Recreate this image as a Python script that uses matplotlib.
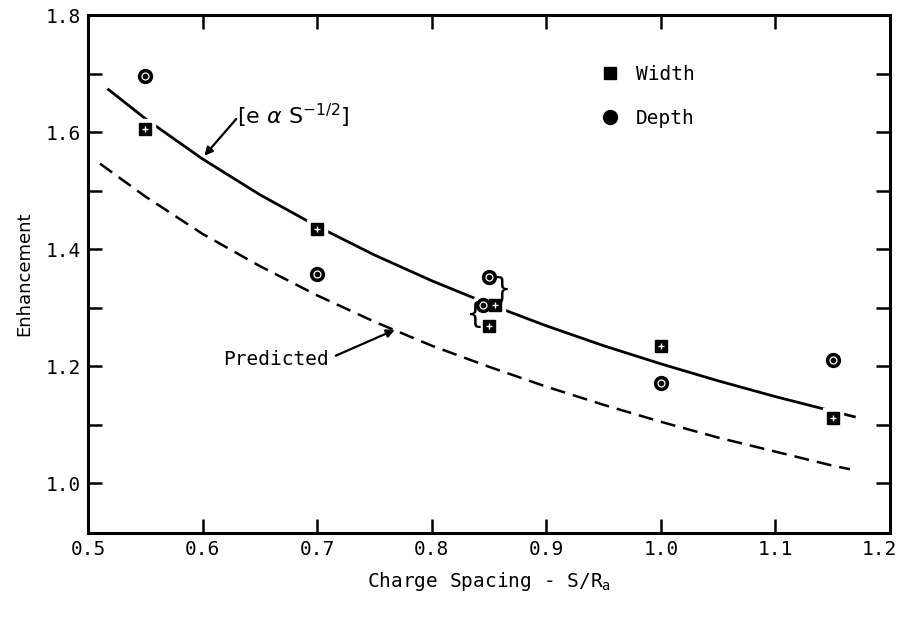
import matplotlib
matplotlib.use("Agg")
import matplotlib.pyplot as plt
from matplotlib.lines import Line2D
from matplotlib.transforms import ScaledTranslation

# ---- data ----
width_x = [0.55, 0.70, 0.855, 0.85, 1.00, 1.15]
width_y = [1.605, 1.435, 1.305, 1.268, 1.235, 1.112]
depth_x = [0.55, 0.70, 0.85, 0.845, 1.00, 1.15]
depth_y = [1.695, 1.357, 1.352, 1.305, 1.172, 1.210]

# fitted curve  e ~ S^-1/2
fit_x = [0.517, 0.55, 0.60, 0.65, 0.70, 0.75, 0.80, 0.85, 0.90, 0.95, 1.00, 1.05, 1.10, 1.15, 1.17]
fit_y = [1.674, 1.623, 1.554, 1.493, 1.439, 1.390, 1.346, 1.306, 1.269, 1.235, 1.204, 1.175, 1.148, 1.123, 1.113]

# predicted curve (dashed)
pred_x = [0.5105, 0.55, 0.60, 0.65, 0.70, 0.75, 0.80, 0.85, 0.90, 0.95, 1.00, 1.05, 1.10, 1.15, 1.165]
pred_y = [1.546, 1.490, 1.426, 1.371, 1.321, 1.276, 1.235, 1.199, 1.165, 1.134, 1.105, 1.078, 1.054, 1.030, 1.024]

x_ticks = [0.5, 0.6, 0.7, 0.8, 0.9, 1.0, 1.1, 1.2]
x_ticklabels = ["0.5", "0.6", "0.7", "0.8", "0.9", "1.0", "1.1", "1.2"]
y_ticks = [1.0, 1.2, 1.4, 1.6, 1.8]
y_ticklabels = ["1.0", "1.2", "1.4", "1.6", "1.8"]
y_minor = [1.1, 1.3, 1.5, 1.7]

MONO = "DejaVu Sans Mono"

fig = plt.figure(figsize=(9.02, 6.18), dpi=100)
ax = fig.add_axes([88/902, 1-533/618, 802/902, 518/618])

ax.set_xlim(0.5, 1.2)
ax.set_ylim(0.915, 1.8)

# curves
ax.plot(fit_x, fit_y, color="black", lw=2.0, zorder=2, solid_capstyle="butt")
ax.plot(pred_x, pred_y, color="black", lw=1.8, ls=(0, (6, 3.2)), zorder=2)

# white halos (line gaps around markers)
ax.plot(width_x, width_y, ls="none", marker="s", ms=14, mfc="white", mec="white", zorder=3)
ax.plot(depth_x, depth_y, ls="none", marker="o", ms=16, mfc="white", mec="white", zorder=3)

# markers
ax.plot(width_x, width_y, ls="none", marker="s", ms=9, mfc="black", mec="black", zorder=4)
ax.plot(width_x, width_y, ls="none", marker="+", ms=5, mew=1.0, color="white", zorder=5)
ax.plot(depth_x, depth_y, ls="none", marker="o", ms=10, mfc="black", mec="black", zorder=4)
ax.plot(depth_x, depth_y, ls="none", marker="o", ms=5, mfc="none", mec="white", mew=0.9, zorder=5)

# braces joining pairs at 0.85
ax.text(0.862, 1.331, "}", fontsize=20, family=MONO, ha="center", va="center", zorder=6)
ax.text(0.837, 1.288, "{", fontsize=20, family=MONO, ha="center", va="center", zorder=6)

# annotations
ax.annotate("", xy=(0.600, 1.556), xytext=(0.631, 1.626),
            arrowprops=dict(arrowstyle="-|>", color="black", lw=1.6, mutation_scale=12), zorder=6)
ax.text(0.630, 1.628, r"[e $\alpha$ S$^{-1/2}$]", fontsize=16, family="DejaVu Sans",
        ha="left", va="center")

ax.annotate("", xy=(0.770, 1.264), xytext=(0.714, 1.216),
            arrowprops=dict(arrowstyle="-|>", color="black", lw=1.6, mutation_scale=12), zorder=6)
ax.text(0.618, 1.211, "Predicted", fontsize=14, family=MONO, ha="left", va="center")

# legend
h_w = Line2D([], [], ls="none", marker="s", ms=9, mfc="black", mec="black")
h_d = Line2D([], [], ls="none", marker="o", ms=10, mfc="black", mec="black")
ax.legend([h_w, h_d], ["Width", "Depth"], loc="upper left", bbox_to_anchor=(0.627, 0.923),
          frameon=False, borderpad=0, handlelength=1.0, handletextpad=0.8,
          labelspacing=1.3, prop=dict(family=MONO, size=14))

# axes styling
for s in ax.spines.values():
    s.set_linewidth(2.2)
ax.set_xticks(x_ticks)
ax.set_xticklabels(x_ticklabels, family=MONO, fontsize=14)
ax.set_yticks(y_ticks)
ax.set_yticklabels(y_ticklabels, family=MONO, fontsize=14)
ax.set_yticks(y_minor, minor=True)
ax.tick_params(which="both", direction="in", length=10, width=1.8,
               top=True, right=True, pad=5)

# keep the last x tick label inside the figure (as in the reference)
last = ax.get_xticklabels()[-1]
last.set_transform(last.get_transform() + ScaledTranslation(-8/72, 0, fig.dpi_scale_trans))

ax.set_xlabel(r"Charge Spacing - S/R$_{\mathregular{a}}$", family=MONO, fontsize=14, labelpad=8)
ax.set_ylabel("Enhancement", family="DejaVu Sans", fontsize=13, labelpad=9)

fig.savefig("out.png", dpi=100)
